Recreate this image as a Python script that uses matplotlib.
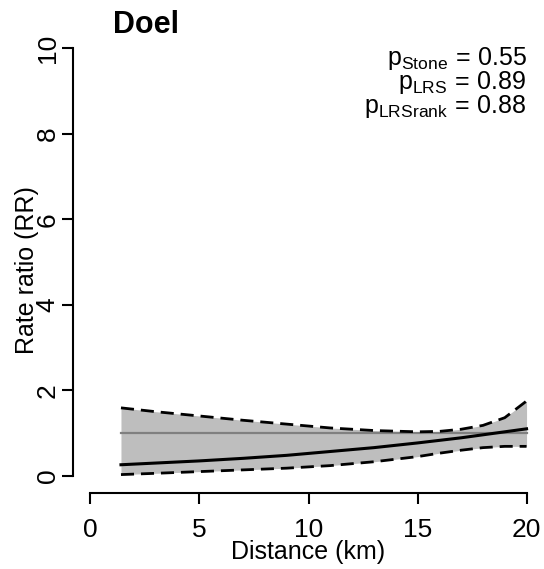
import numpy as np
import matplotlib
matplotlib.use("Agg")
import matplotlib.pyplot as plt

plt.rcParams['font.family'] = ['Liberation Sans', 'DejaVu Sans']
plt.rcParams['mathtext.fontset'] = 'custom'
plt.rcParams['mathtext.rm'] = 'Liberation Sans'
plt.rcParams['mathtext.it'] = 'Liberation Sans'

# curve
distance = [1.4, 3, 5, 7, 9, 11, 13, 15, 16, 17, 18, 19, 20]
rr_fit = [0.26, 0.30, 0.35, 0.41, 0.48, 0.57, 0.66, 0.77, 0.83, 0.89, 0.96, 1.03, 1.10]
rr_upper = [1.59, 1.50, 1.40, 1.30, 1.21, 1.12, 1.06, 1.03, 1.04, 1.09, 1.18, 1.36, 1.75]
rr_lower = [0.03, 0.06, 0.10, 0.14, 0.18, 0.24, 0.33, 0.45, 0.53, 0.60, 0.66, 0.69, 0.69]
null_rr = 1.0

p_names = ['Stone', 'LRS', 'LRSrank']
p_values = ['0.55', '0.89', '0.88']

x_ticks = [0, 5, 10, 15, 20]
y_ticks = [0, 2, 4, 6, 8, 10]

fig = plt.figure(figsize=(5.44, 5.69), dpi=100)
ax = fig.add_axes([0.1342, 0.1336, 0.8658, 0.8119])

# confidence band, null line, fit, bounds
ax.fill_between(distance, rr_lower, rr_upper, color='#bebebe', linewidth=0)
ax.plot([distance[0], distance[-1]], [null_rr, null_rr], color='#808080', lw=1.6)
ax.plot(distance, rr_fit, color='black', lw=2.2)
ax.plot(distance, rr_upper, color='black', lw=2, dashes=(4.7, 2.5))
ax.plot(distance, rr_lower, color='black', lw=2, dashes=(4.7, 2.5))

ax.set_xlim(-0.8, 20.8)
ax.set_ylim(-0.4, 10.4)
ax.set_xticks(x_ticks)
ax.set_yticks(y_ticks)
ax.set_xticklabels([str(t) for t in x_ticks], fontsize=19)
ax.set_yticklabels([str(t) for t in y_ticks], fontsize=19, rotation=90, va='center')

# R style axes
for s in ['top', 'right']:
    ax.spines[s].set_visible(False)
ax.spines['bottom'].set_bounds(0, 20)
ax.spines['left'].set_bounds(0, 10)
ax.spines['bottom'].set_linewidth(1.5)
ax.spines['left'].set_linewidth(1.5)
ax.tick_params(axis='x', direction='out', length=8, width=1.5, pad=10)
ax.tick_params(axis='y', direction='out', length=8, width=1.5, pad=1.5)

fig.text(308 / 544, 1 - 552 / 569, 'Distance (km)', fontsize=18, ha='center', va='center')
fig.text(27 / 544, 1 - 270 / 569, 'Rate ratio (RR)', fontsize=18, rotation=90,
         ha='center', va='center')
fig.text(113 / 544, 1 - 33 / 569, 'Doel', fontsize=22, fontweight='bold',
         ha='left', va='baseline')

# p-values
baselines = [9.60, 9.04, 8.48]
for name, val, yb in zip(p_names, p_values, baselines):
    ax.text(20, yb, r'$\mathregular{p_{%s}\,=\,%s}$' % (name, val), fontsize=18,
            ha='right', va='baseline')

fig.savefig('out.png', dpi=100)
